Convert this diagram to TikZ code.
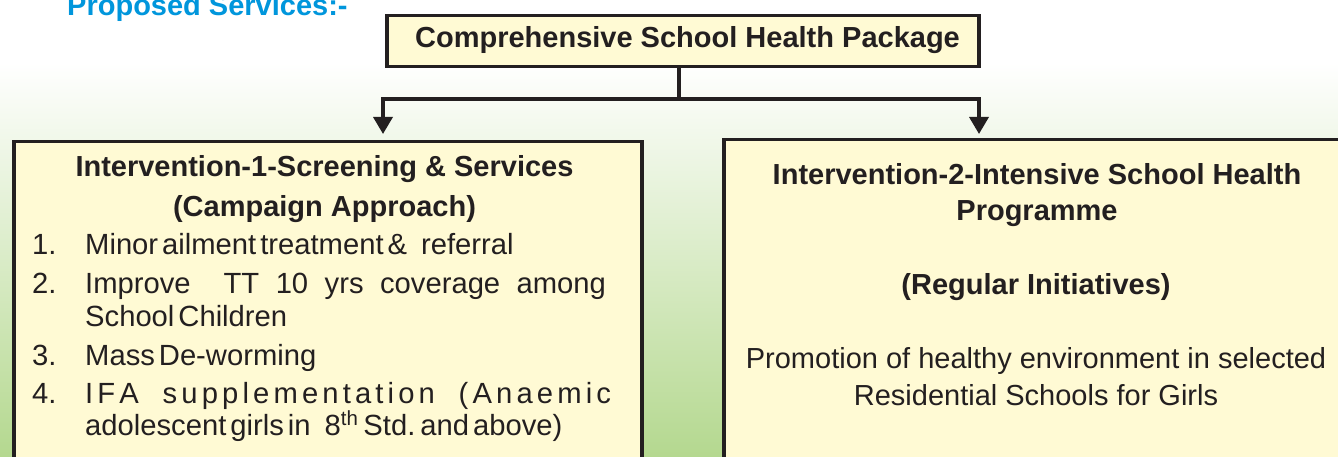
\documentclass[tikz,border=0pt]{standalone}
\usepackage{fontspec}
\setmainfont{Liberation Sans}
\usetikzlibrary{arrows.meta}
\definecolor{boxfill}{RGB}{255,250,212}
\definecolor{ink}{RGB}{35,31,32}
\definecolor{bggreen}{RGB}{180,216,143}
\definecolor{headblue}{RGB}{0,150,220}
\newcommand\fsBold{\fontsize{29}{34}\selectfont\bfseries}
\newcommand\fsReg{\fontsize{29}{34}\selectfont}
\newcommand\fsList{\fontsize{29.2}{34}\selectfont}
\newcommand\wsp{\hspace{0.25em plus 1fil}}
\newcommand\lgap{\hspace{0pt plus 1fil}}
\newcommand\wgap{\hspace{0.25em plus 4fil}}
\begin{document}
\begin{tikzpicture}[x=1pt,y=-1pt,
  boxst/.style={draw=ink,line width=3.5pt,fill=boxfill,inner sep=0pt},
  txt/.style={text=ink,inner sep=0pt,font=\fsReg},
  ltxt/.style={text=ink,inner sep=0pt,font=\fsList},
  btxt/.style={text=ink,inner sep=0pt,font=\fsBold},
  conn/.style={draw=ink,line width=3.5pt},
  arr/.style={conn,-{Triangle[width=19pt,length=17pt]}}]
\useasboundingbox (0,0) rectangle (1338,457);
\fill[white] (0,0) rectangle (1338,63);
\shade[top color=white,bottom color=bggreen] (0,63) rectangle (1338,457);
% title
\node[btxt,text=headblue,anchor=base west] (ps) at (67,16) {Proposed Services:-};
% boxes
\node[boxst,anchor=north west,minimum width=592pt,minimum height=51pt] (top) at (385,14) {};
\node[boxst,anchor=north west,minimum width=628pt,minimum height=400pt] (b1) at (12,140) {};
\node[boxst,anchor=north west,minimum width=700pt,minimum height=400pt] (b2) at (722,138) {};
% top text
\node[btxt,anchor=base] (ttl) at (687.5,48) {Comprehensive School Health Package};
% box 1 text
\node[btxt,anchor=base] (h1a) at (324.5,177) {Intervention-1-Screening \& Services};
\node[btxt,anchor=base] (h1b) at (324.5,217) {(Campaign Approach)};
\node[ltxt,anchor=base west] (n1) at (32,254) {1.};
\node[ltxt,anchor=base west] (n2) at (32,293) {2.};
\node[ltxt,anchor=base west] (n3) at (32,365) {3.};
\node[ltxt,anchor=base west] (n4) at (32,403) {4.};
\node[ltxt,anchor=base west] (i1) at (85,254) {Minor\hspace{4pt}ailment\hspace{4pt}treatment\hspace{4pt}\&\hspace{14pt}referral};
\node[ltxt,anchor=base west] (i2a) at (85,293) {\makebox[530pt][l]{Improve\wsp\wsp TT\wsp 10\wsp yrs\wsp coverage\wsp among}};
\node[ltxt,anchor=base west] (i2b) at (85,326) {School\hspace{4pt}Children};
\node[ltxt,anchor=base west] (i3) at (85,365) {Mass\hspace{4pt}De-worming};
\node[ltxt,anchor=base west] (i4a) at (85,403) {\makebox[530pt][l]{I\lgap F\lgap A\wgap s\lgap u\lgap p\lgap p\lgap l\lgap e\lgap m\lgap e\lgap n\lgap t\lgap a\lgap t\lgap i\lgap o\lgap n\wgap (\lgap A\lgap n\lgap a\lgap e\lgap m\lgap i\lgap c}};
\node[ltxt,anchor=base west] (i4b) at (85,435) {adolescent\hspace{4pt}girls\hspace{4pt}in\hspace{14pt}8\textsuperscript{th}\hspace{5pt}Std.\hspace{5pt}and\hspace{4pt}above)};
% box 2 text
\node[btxt,anchor=base] (h2a) at (1037,185) {Intervention-2-Intensive School Health};
\node[btxt,anchor=base] (h2b) at (1037,221) {Programme};
\node[btxt,anchor=base] (h2c) at (1036,294) {(Regular Initiatives)};
\node[txt,anchor=base] (p1) at (1036,368) {Promotion of healthy environment in selected};
\node[txt,anchor=base] (p2) at (1036,405) {Residential Schools for Girls};
% connectors
\coordinate (mid) at (679,99);
\coordinate (t1) at (383,134);
\coordinate (t2) at (979,134);
\draw[conn] (top.south -| mid) -- (mid);
\draw[arr] (mid) -| (t1);
\draw[arr] (mid) -| (t2);
\end{tikzpicture}
\end{document}
